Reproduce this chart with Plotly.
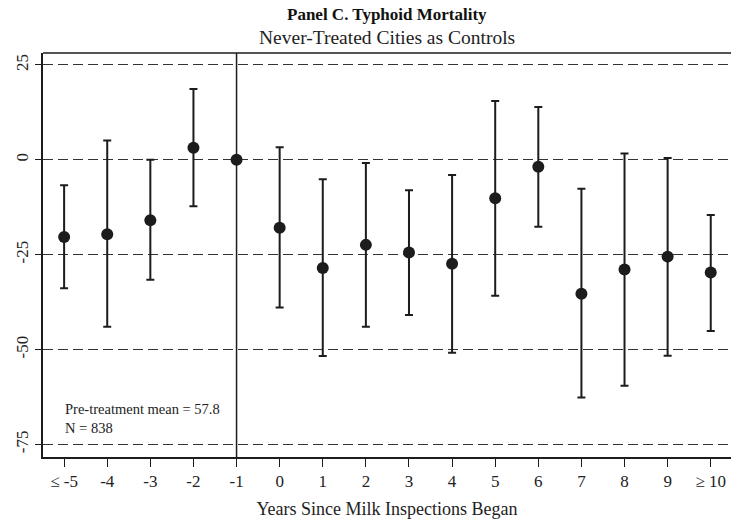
import plotly.graph_objects as go

years = [-5, -4, -3, -2, -1, 0, 1, 2, 3, 4, 5, 6, 7, 8, 9, 10]
tick_labels = ["≤ -5", "-4", "-3", "-2", "-1", "0", "1", "2", "3", "4", "5", "6", "7", "8", "9", "≥ 10"]
estimates = [-20.3, -19.6, -15.9, 3.2, 0.0, -17.9, -28.5, -22.4, -24.4, -27.4, -10.1, -1.8, -35.3, -28.9, -25.5, -29.7]
ci_upper = [-6.7, 5.1, 0.0, 18.7, 0.0, 3.3, -5.1, -0.8, -8.0, -4.0, 15.5, 13.9, -7.6, 1.7, 0.5, -14.5]
ci_lower = [-33.8, -44.0, -31.6, -12.2, 0.0, -38.9, -51.7, -44.0, -40.9, -50.8, -35.8, -17.6, -62.6, -59.5, -51.6, -45.1]
y_ticks = [25, 0, -25, -50, -75]

err_plus = [u - e for u, e in zip(ci_upper, estimates)]
err_minus = [e - l for e, l in zip(estimates, ci_lower)]

FONT = "Liberation Serif"
INK = "#1c1c1c"

fig = go.Figure()
fig.add_trace(go.Scatter(
    x=years, y=estimates, mode="markers",
    marker=dict(size=12, color=INK),
    error_y=dict(type="data", symmetric=False, array=err_plus, arrayminus=err_minus,
                 color=INK, thickness=2, width=4),
    showlegend=False, hoverinfo="skip",
))

fig.add_shape(type="line", xref="x", yref="paper", x0=-1, x1=-1, y0=0, y1=1,
              line=dict(color=INK, width=1.5))
# top frame line
fig.add_shape(type="line", xref="paper", yref="paper", x0=0, x1=1, y0=1, y1=1,
              line=dict(color=INK, width=1.5))

fig.update_layout(
    width=731, height=519,
    margin=dict(l=43, r=0, t=53, b=62, autoexpand=False),
    paper_bgcolor="white", plot_bgcolor="white",
    font=dict(family=FONT, color="#222", size=15),
    xaxis=dict(
        range=[-5.49, 10.47], tickmode="array", tickvals=years, ticktext=tick_labels,
        showgrid=False, zeroline=False, showline=True, linecolor=INK, linewidth=1.5,
        mirror=False, ticks="outside", ticklen=8, tickcolor=INK, tickwidth=1,
        tickfont=dict(family=FONT, size=17, color="#222"), automargin=False,
        title=dict(text="Years Since Milk Inspections Began", font=dict(family=FONT, size=18, color="#222"), standoff=14),
    ),
    yaxis=dict(
        range=[-78.3, 28.16], tickmode="array", tickvals=y_ticks, ticktext=[str(v) for v in y_ticks],
        tickangle=-90, showgrid=True, gridcolor="#333", gridwidth=1, griddash="10px,5px",
        zeroline=False, showline=True, linecolor=INK, linewidth=1.5, automargin=False,
        ticks="outside", ticklen=6, tickcolor=INK, tickwidth=1,
        tickfont=dict(family=FONT, size=17, color="#222"),
    ),
    annotations=[
        dict(text="<b>Panel C. Typhoid Mortality</b>", xref="paper", yref="paper", x=0.5, y=1,
             yshift=38.5, xanchor="center", yanchor="middle", showarrow=False,
             font=dict(family=FONT, size=17, color="#111")),
        dict(text="Never-Treated Cities as Controls", xref="paper", yref="paper", x=0.5, y=1,
             yshift=15.5, xanchor="center", yanchor="middle", showarrow=False,
             font=dict(family=FONT, size=19.5, color="#222")),
        dict(text="Pre-treatment mean = 57.8<br>N = 838", xref="paper", yref="paper", x=0, y=0,
             xshift=20, yshift=39, xanchor="left", yanchor="middle", align="left", showarrow=False,
             font=dict(family=FONT, size=14.5, color="#222")),
    ],
)

fig.write_html("out.html", config={"displayModeBar": False},
               post_script="document.body.style.margin='0';document.body.style.overflow='hidden';")
